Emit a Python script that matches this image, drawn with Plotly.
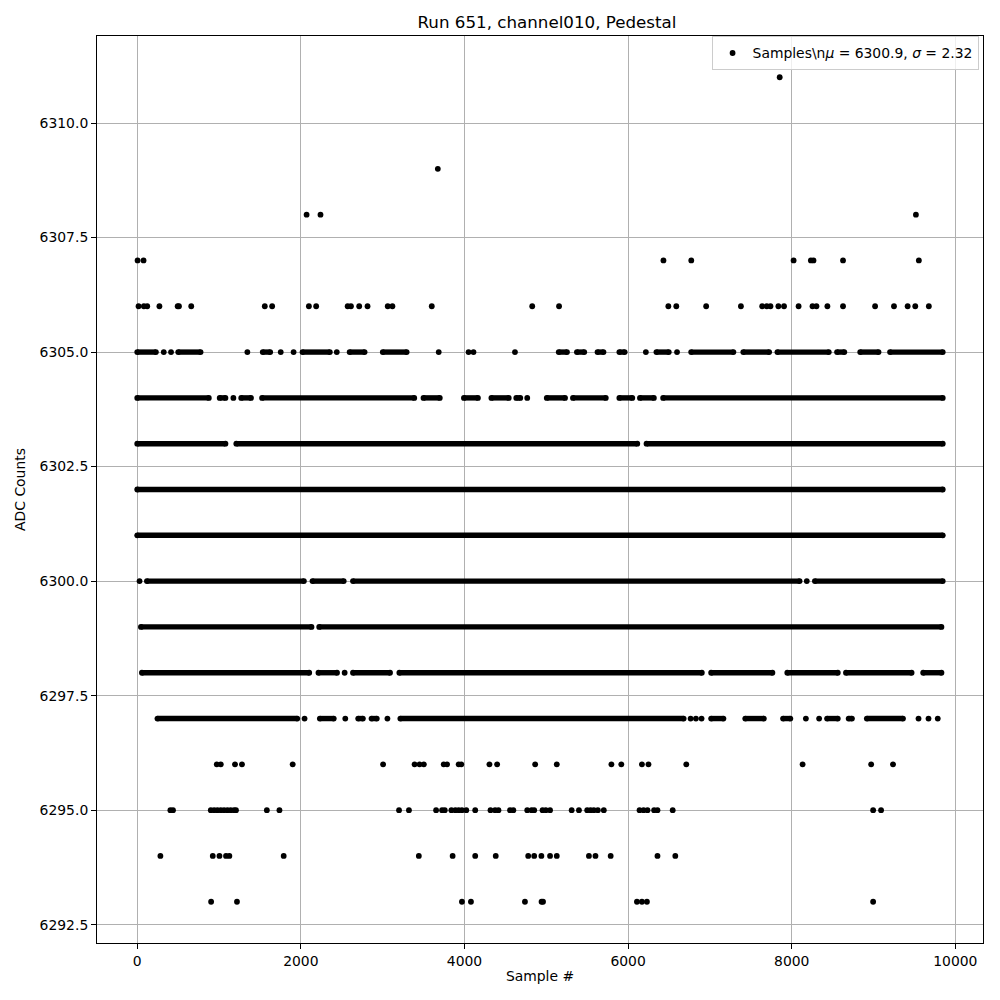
import plotly.graph_objects as go

# ADC levels (y values) and, for each, the samples.
# An int is a single sample; a (start, end) pair is a dense run of samples.
adc_6311 = [7853]
adc_6309 = [3674]
adc_6308 = [2070, 2240, 9518]
adc_6307 = [4, 77, 6432, 6772, 8023, 8234, 8266, 8627, 9554]
adc_6306 = [16, 81, 122, 271, 494, 510, 660, 1559, 1649, 2098, 2187, 2572, 2612,
            2713, 2815, 3062, 3119, 3600, 4828, 5156, 6492, 6589, 6954, 7379, 7639,
            7695, 7740, 7837, 7906, 8084, 8254, 8302, 8436, 8627, 9019, 9250, 9417,
            9510, 9676]
adc_6305 = [(0, 228), 324, 413, (501, 774), 1346, (1534, 1625), 1754, 1911,
            (2020, 2354), 2439, (2596, 2779), (3001, 3293), 3685, 4050, 4110, 4617,
            (5152, 5253), (5374, 5464), (5626, 5699), (5893, 5958), 6217, (6346, 6497),
            6598, (6771, 7287), (7408, 7724), (7825, 8453), (8554, 8643), (8837, 9061),
            (9202, 9846)]
adc_6304 = [(0, 875), (1008, 1078), 1175, (1271, 1390), (1526, 3386), (3499, 3698),
            (3993, 4164), (4329, 4541), (4633, 4682), 4767, (5006, 5229), (5326, 5727),
            (5893, 6051), (6145, 6315), (6428, 9846)]
adc_6303 = [(0, 1078), (1211, 6112), (6225, 9846)]
adc_6302 = [(0, 9846)]
adc_6301 = [(0, 9846)]
adc_6300 = [28, (118, 2037), (2142, 2524), (2637, 8096), 8184, (8283, 9846)]
adc_6299 = [(45, 2130), (2224, 9830)]
adc_6298 = [(57, 2102), (2215, 2442), 2535, (2637, 3090), (3204, 6901), (7015, 7764),
            (7946, 8563), (8663, 9465), (9607, 9830)]
adc_6297 = [(247, 1956), 2045, (2232, 2402), 2543, (2701, 2758), (2864, 2928), 3058,
            (3216, 6679), 6764, 6829, 6898, (7015, 7165), (7432, 7659), (7894, 7983),
            8173, 8335, (8432, 8563), (8696, 8736), (8918, 9360), 9550, 9672, 9785]
adc_6296 = [972, 1021, 1195, 1280, 1900, 3005, 3390, 3451, 3503, 3746, 3787, 3929,
            3961, 4305, 4399, 4864, 5128, 5796, 5917, 6169, 6249, 6711, 8133, 8971, 9238]
adc_6295 = [405, 437, 899, 940, 980, 1021, 1061, 1102, 1142, 1183, 1207, 1584, 1738,
            3200, 3321, 3653, 3726, 3759, 3840, 3888, 3929, 3969, 4022, 4131, 4318,
            4374, 4415, 4557, 4597, 4767, 4820, 4852, 4954, 4994, 5046, 5310, 5399,
            5500, 5541, 5581, 5630, 5703, 6140, 6189, 6237, 6318, 6359, 6545, 8995, 9092]
adc_6294 = [283, 923, 1005, 1085, 1126, 1790, 3442, 3855, 4131, 4382, 4779, 4852,
            4940, 5046, 5128, 5521, 5601, 5787, 6359, 6577]
adc_6293 = [903, 1219, 3969, 4079, 4739, 4942, 4960, 6108, 6169, 6230, 8995]

series = {
    6311: adc_6311, 6309: adc_6309, 6308: adc_6308, 6307: adc_6307, 6306: adc_6306,
    6305: adc_6305, 6304: adc_6304, 6303: adc_6303, 6302: adc_6302, 6301: adc_6301,
    6300: adc_6300, 6299: adc_6299, 6298: adc_6298, 6297: adc_6297, 6296: adc_6296,
    6295: adc_6295, 6294: adc_6294, 6293: adc_6293,
}

x_ticks = [0, 2000, 4000, 6000, 8000, 10000]
y_ticks = [6292.5, 6295.0, 6297.5, 6300.0, 6302.5, 6305.0, 6307.5, 6310.0]

title = "Run 651, channel010, Pedestal"
legend_label = "Samples\\n<i>μ</i> = 6300.9, <i>σ</i> = 2.32"

line_x, line_y, mk_x, mk_y = [], [], [], []
for level, entries in series.items():
    for e in entries:
        if isinstance(e, tuple):
            a, b = e
            line_x += [a, b, None]
            line_y += [level, level, None]
            mk_x += [a, b]
            mk_y += [level, level]
        else:
            mk_x.append(e)
            mk_y.append(level)

FONT = "DejaVu Sans"
fig = go.Figure()
fig.add_trace(go.Scatter(x=line_x, y=line_y, mode="lines",
                         line=dict(color="black", width=5.4),
                         showlegend=False, hoverinfo="skip"))
fig.add_trace(go.Scatter(x=mk_x, y=mk_y, mode="markers", name=legend_label,
                         marker=dict(color="black", size=5.8, line=dict(width=0))))

axis_common = dict(showline=True, mirror=True, linecolor="black", linewidth=1,
                   showgrid=True, gridcolor="#b0b0b0", gridwidth=0.8,
                   ticks="outside", ticklen=5, tickcolor="black", tickwidth=1,
                   zeroline=False, tickfont=dict(family=FONT, size=13.9, color="black"))

fig.update_layout(
    width=1000, height=1000,
    margin=dict(l=84, r=25, t=28, b=65),
    paper_bgcolor="white", plot_bgcolor="white",
    font=dict(family=FONT, size=13.9, color="black"),
    title=dict(text=title, x=0.539, xanchor="center", y=0.986, yanchor="middle",
               font=dict(family=FONT, size=16.7, color="black")),
    xaxis=dict(range=[-492, 10338], tickvals=x_ticks,
               ticktext=[str(v) for v in x_ticks],
               title=dict(text="Sample #", standoff=3,
                          font=dict(family=FONT, size=13.9)), **axis_common),
    yaxis=dict(range=[6292.1, 6311.9], tickvals=y_ticks,
               ticktext=[f"{v:.1f}" for v in y_ticks],
               title=dict(text="ADC Counts", standoff=10,
                          font=dict(family=FONT, size=13.9)), **axis_common),
    legend=dict(x=0.995, xanchor="right", y=0.9995, yanchor="top",
                bgcolor="rgba(255,255,255,0.8)", bordercolor="#cccccc", borderwidth=1,
                font=dict(family=FONT, size=13.9, color="black")),
)

fig.write_html("out.html")
